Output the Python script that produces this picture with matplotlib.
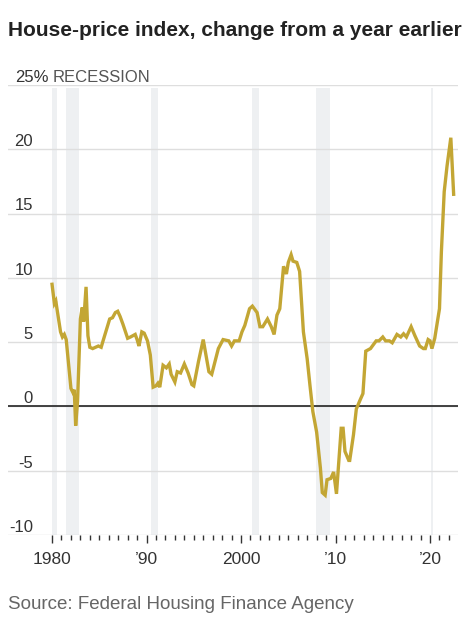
import matplotlib
matplotlib.use("Agg")
import matplotlib.pyplot as plt
import matplotlib.transforms as mtransforms
from matplotlib import font_manager

# house-price index, change from a year earlier (%)
years = [1980.0, 1980.25, 1980.4, 1980.5, 1980.9, 1981.1, 1981.3, 1981.5, 1982.0, 1982.2,
         1982.35, 1982.5, 1982.7, 1983.0, 1983.2, 1983.35, 1983.6, 1983.8, 1984.0, 1984.3,
         1984.9, 1985.2, 1985.4, 1986.1, 1986.4, 1986.7, 1986.95, 1987.2, 1987.5, 1988.0,
         1988.3, 1988.8, 1989.0, 1989.2, 1989.5, 1989.75, 1990.1, 1990.4, 1990.7, 1991.0,
         1991.2, 1991.4, 1991.75, 1992.1, 1992.4, 1992.6, 1993.0, 1993.25, 1993.6, 1994.0,
         1994.4, 1994.8, 1995.0, 1995.5, 1996.0, 1996.6, 1996.9, 1997.6, 1998.1, 1998.7,
         1999.0, 1999.3, 1999.8, 2000.1, 2000.4, 2000.9, 2001.2, 2001.7, 2002.0, 2002.3,
         2002.8, 2003.2, 2003.5, 2003.8, 2004.1, 2004.5, 2004.8, 2005.0, 2005.3, 2005.5,
         2005.9, 2006.2, 2006.6, 2007.0, 2007.3, 2007.6, 2008.0, 2008.4, 2008.6, 2008.9,
         2009.1, 2009.5, 2009.8, 2010.1, 2010.3, 2010.6, 2010.8, 2011.0, 2011.4, 2011.5,
         2011.9, 2012.2, 2012.6, 2012.9, 2013.2, 2013.7, 2013.9, 2014.3, 2014.6, 2015.0,
         2015.3, 2015.7, 2016.0, 2016.5, 2016.9, 2017.2, 2017.5, 2018.0, 2018.4, 2018.9,
         2019.3, 2019.5, 2019.8, 2020.0, 2020.2, 2020.5, 2021.0, 2021.2, 2021.5, 2021.8,
         2022.2, 2022.5]
change = [9.5, 8.0, 8.2, 7.7, 5.8, 5.4, 5.6, 5.2, 1.4, 1.1,
          1.3, -1.5, 0.4, 6.8, 7.7, 6.6, 9.3, 5.5, 4.6, 4.5,
          4.7, 4.6, 5.1, 6.8, 6.9, 7.3, 7.4, 7.0, 6.4, 5.3,
          5.4, 5.6, 5.2, 4.7, 5.8, 5.7, 5.1, 4.0, 1.5, 1.6,
          1.8, 1.5, 3.2, 3.0, 3.3, 2.5, 1.9, 2.7, 2.6, 3.3,
          2.6, 1.7, 1.6, 3.5, 5.2, 2.7, 2.5, 4.5, 5.2, 5.1,
          4.7, 5.1, 5.1, 5.8, 6.3, 7.6, 7.8, 7.3, 6.2, 6.2,
          6.8, 6.2, 5.6, 7.1, 7.6, 10.9, 10.3, 11.2, 11.8, 11.3,
          11.2, 10.5, 5.8, 3.7, 1.6, -0.4, -2.0, -4.8, -6.7, -6.9,
          -5.7, -5.6, -5.1, -6.8, -4.8, -1.7, -1.7, -3.5, -4.2, -4.2,
          -2.2, -0.2, 0.5, 1.0, 4.3, 4.5, 4.7, 5.1, 5.1, 5.4,
          5.1, 5.1, 4.95, 5.6, 5.4, 5.65, 5.4, 6.2, 5.5, 4.7,
          4.5, 4.5, 5.2, 5.1, 4.5, 5.3, 7.6, 12.0, 16.7, 18.7,
          20.9, 16.5]

# recession periods (start, end)
recessions = [(1980.0, 1980.5), (1981.5, 1982.9), (1990.5, 1991.2),
              (2001.2, 2001.85), (2007.9, 2009.45), (2020.1, 2020.3)]

y_ticks = [-10, -5, 0, 5, 10, 15, 20, 25]
x_major = [1980, 1990, 2000, 2010, 2020]
x_labels = ["1980", "\u201990", "2000", "\u201910", "\u201920"]
x_minor = list(range(1980, 2023))

available = {f.name for f in font_manager.fontManager.ttflist}
title_font = "Liberation Sans Narrow" if "Liberation Sans Narrow" in available else "Liberation Sans"
base_font = "Liberation Sans"

W, H = 474, 618
fig = plt.figure(figsize=(W / 100, H / 100), dpi=100)
ax = fig.add_axes([8 / W, (H - 535) / H, 450 / W, 450 / H])

ax.set_xlim(1975.34, 2022.96)
ax.set_ylim(-10, 25)

for start, end in recessions:
    ax.fill_betweenx([-10, 24.8], start, end, color="#eef0f2", lw=0, zorder=0)

for yv in y_ticks:
    ax.axhline(yv, color="#dedede", lw=1.0, zorder=1)
ax.axhline(0, color="#333333", lw=1.3, zorder=2)

ax.plot(years, change, color="#c3a634", lw=2.4, solid_joinstyle="miter", zorder=3)

# y labels sit above the gridlines, right-aligned
trans = mtransforms.blended_transform_factory(fig.transFigure, ax.transData)
for yv in y_ticks:
    if yv == 25:
        continue
    ax.text(33 / W, yv + 0.25, str(yv), transform=trans, ha="right", va="baseline",
            fontsize=12, color="#333333", family=base_font)
ax.text(15 / W, 25.25, "25%", transform=trans, ha="left", va="baseline",
        fontsize=12, color="#333333", family=base_font)
ax.text(53 / W, 25.25, "RECESSION", transform=trans, ha="left", va="baseline",
        fontsize=12, color="#555555", family=base_font)

for s in ax.spines.values():
    s.set_visible(False)
ax.set_yticks([])
ax.set_xticks(x_major)
ax.set_xticklabels(x_labels, fontsize=12.5, color="#333333", family=base_font)
ax.set_xticks(x_minor, minor=True)
ax.tick_params(axis="x", which="major", length=6, width=1, color="#333333", pad=6)
ax.tick_params(axis="x", which="minor", length=3.5, width=1, color="#333333")

fig.text(8 / W, 1 - 36 / H, "House-price index, change from a year earlier",
         ha="left", va="baseline", fontsize=15, fontweight="bold", color="#222222",
         family=title_font)
fig.text(8 / W, 1 - 609 / H, "Source: Federal Housing Finance Agency",
         ha="left", va="baseline", fontsize=13.5, color="#666666", family=base_font)

fig.savefig("out.png", dpi=100)
